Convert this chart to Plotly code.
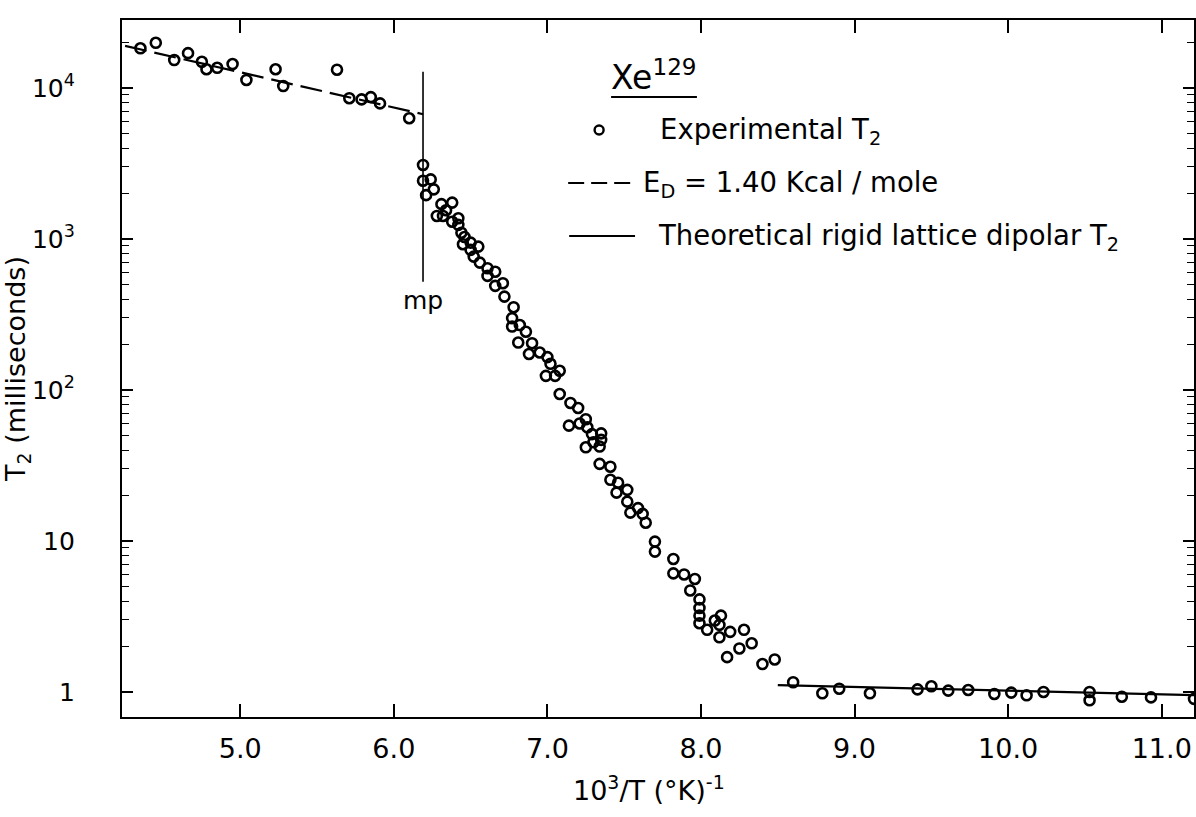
import plotly.graph_objects as go

# ---------------- data ----------------
x_exp = [4.35, 4.45, 4.57, 4.66, 4.75, 4.78, 4.85, 4.95, 5.04, 5.23, 5.28, 5.63, 5.71, 5.79, 5.85, 5.91, 6.10,
         6.19, 6.19, 6.24, 6.26, 6.21, 6.31, 6.38, 6.34, 6.28, 6.32, 6.38, 6.42, 6.42, 6.44, 6.46, 6.50, 6.45,
         6.55, 6.50, 6.52, 6.56, 6.61, 6.66, 6.61, 6.71, 6.66, 6.72, 6.78, 6.77, 6.77, 6.82, 6.86, 6.81, 6.90,
         6.88, 6.95, 7.00, 7.02, 7.08, 6.99, 7.05, 7.08, 7.15, 7.20, 7.25, 7.14, 7.21, 7.26, 7.29, 7.35, 7.35,
         7.30, 7.34, 7.25, 7.34, 7.41, 7.41, 7.46, 7.45, 7.52, 7.52, 7.59, 7.54, 7.62, 7.64, 7.70, 7.70, 7.82,
         7.82, 7.89, 7.96, 7.93, 7.99, 7.99, 7.99, 7.99, 8.04, 8.13, 8.09, 8.12, 8.12, 8.19, 8.28, 8.33, 8.25,
         8.17, 8.40, 8.48,
         8.60, 8.79, 8.90, 9.10, 9.41, 9.50, 9.61, 9.74, 9.91, 10.02, 10.12, 10.23, 10.53, 10.53, 10.74, 10.93,
         11.21]
t2_exp = [18300, 19900, 15300, 17000, 14900, 13300, 13600, 14400, 11300, 13300, 10300, 13200, 8550, 8400, 8700,
          7900, 6300,
          3090, 2430, 2480, 2130, 1950, 1700, 1740, 1550, 1420, 1420, 1300, 1370, 1240, 1100, 1030, 946, 923,
          890, 846, 764, 697, 640, 607, 569, 509, 489, 415, 353, 299, 263, 269, 243, 206, 204,
          173, 177, 165, 149, 134, 124, 124, 94, 82, 76, 64, 58, 60, 56.6, 51, 51.6, 46.7,
          45, 42.2, 41.7, 32.4, 31, 25.4, 24.3, 20.9, 21.8, 18.2, 16.5, 15.4, 15.1, 13.2, 9.9, 8.5, 7.6,
          6.1, 6.0, 5.6, 4.7, 4.1, 3.6, 3.2, 2.85, 2.58, 3.2, 2.97, 2.78, 2.30, 2.5, 2.58, 2.10, 1.94,
          1.70, 1.53, 1.64,
          1.16, 0.98, 1.05, 0.98, 1.04, 1.09, 1.02, 1.03, 0.97, 0.99, 0.95, 1.0, 1.0, 0.88, 0.93, 0.92,
          0.90]

x_dash = [4.25, 6.19]          # E_D = 1.40 kcal/mole fit
t2_dash = [19000, 6700]
x_solid = [8.5, 11.25]         # rigid lattice dipolar T2
t2_solid = [1.11, 0.95]
x_mp = [6.19, 6.19]            # melting point marker
t2_mp = [12800, 520]

x_tickvals = [5, 6, 7, 8, 9, 10, 11]
x_ticktext = ["5.0", "6.0", "7.0", "8.0", "9.0", "10.0", "11.0"]
y_tickvals = [1, 10, 100, 1000, 10000]
y_ticktext = ["1", "10", "10<sup>2</sup>", "10<sup>3</sup>", "10<sup>4</sup>"]
y_minor = [m * 10 ** d for d in range(0, 5) for m in range(2, 10) if m * 10 ** d < 28000]

FONT = "DejaVu Sans, Liberation Sans, sans-serif"

fig = go.Figure()
fig.add_trace(go.Scatter(x=x_dash, y=t2_dash, mode="lines",
                         line=dict(color="black", width=2.2, dash="22px,8px"), showlegend=False))
fig.add_trace(go.Scatter(x=x_solid, y=t2_solid, mode="lines",
                         line=dict(color="black", width=2.2), showlegend=False))
fig.add_trace(go.Scatter(x=x_mp, y=t2_mp, mode="lines",
                         line=dict(color="black", width=1.6), showlegend=False))
fig.add_trace(go.Scatter(x=x_exp, y=t2_exp, mode="markers",
                         marker=dict(symbol="circle-open", size=10, color="black", line=dict(width=2.6)),
                         showlegend=False))

L, R, T, B = 122, 0, 20, 100
W, H = 1196, 817
pw, ph = W - L - R, H - T - B


def px(xp):
    return (xp - L) / pw


def py(yp):
    return (H - B - yp) / ph


# legend drawn as annotations / shapes
fig.add_shape(type="line", xref="paper", yref="paper", x0=px(569), x1=px(636), y0=py(183), y1=py(183),
              line=dict(color="black", width=2.2, dash="16px,7px"))
fig.add_shape(type="line", xref="paper", yref="paper", x0=px(570), x1=px(636), y0=py(236), y1=py(236),
              line=dict(color="black", width=2.2))
fig.add_shape(type="line", xref="paper", yref="paper", x0=px(612), x1=px(698), y0=py(97), y1=py(97),
              line=dict(color="black", width=2))
fig.add_shape(type="circle", xref="paper", yref="paper", xsizemode="pixel", ysizemode="pixel",
              xanchor=px(600), yanchor=py(130), x0=-4.5, x1=4.5, y0=-4.5, y1=4.5,
              line=dict(color="black", width=2.4))

ann = dict(showarrow=False, xref="paper", yref="paper", xanchor="left", yanchor="middle",
           font=dict(family=FONT, size=27.5, color="black"))
fig.add_annotation(text="Xe<sup>129</sup>", x=px(610), y=py(76), **{**ann, "font": dict(family=FONT, size=33, color="black")})
fig.add_annotation(text="Experimental T<sub>2</sub>", x=px(659), y=py(132), **ann)
fig.add_annotation(text="E<sub>D</sub> = 1.40 Kcal / mole", x=px(642), y=py(185), **ann)
fig.add_annotation(text="Theoretical rigid lattice dipolar T<sub>2</sub>", x=px(657), y=py(238), **ann)
fig.add_annotation(text="mp", x=6.19, xref="x", y=py(300), yref="paper", showarrow=False,
                   xanchor="center", yanchor="middle", font=dict(family=FONT, size=25, color="black"))
fig.add_annotation(text="10<sup>3</sup>/T (°K)<sup>-1</sup>", x=px(650), y=py(788), xref="paper", yref="paper",
                   showarrow=False, xanchor="center", yanchor="middle",
                   font=dict(family=FONT, size=27, color="black"))

fig.update_layout(
    width=W, height=H,
    margin=dict(l=L, r=R, t=T, b=B),
    paper_bgcolor="white", plot_bgcolor="white",
    font=dict(family=FONT, color="black"),
    xaxis=dict(range=[4.23, 11.21], tickvals=x_tickvals, ticktext=x_ticktext,
               ticks="inside", ticklen=13, tickwidth=1.6, tickcolor="black",
               showline=True, linecolor="black", linewidth=2.2, mirror="ticks",
               showgrid=False, zeroline=False,
               tickfont=dict(family=FONT, size=27, color="black"), ticklabelstandoff=6),
    yaxis=dict(type="log", range=[-0.166, 4.45], tickvals=y_tickvals, ticktext=y_ticktext,
               ticks="inside", ticklen=11, tickwidth=1.6, tickcolor="black",
               minor=dict(tickvals=y_minor, ticks="inside", ticklen=7, tickwidth=1.2, tickcolor="black",
                          showgrid=False),
               showline=True, linecolor="black", linewidth=2.2, mirror="ticks",
               showgrid=False, zeroline=False,
               tickfont=dict(family=FONT, size=25, color="black"), ticklabelstandoff=40,
               title=dict(text="T<sub>2</sub> (milliseconds)", font=dict(family=FONT, size=27, color="black"),
                          standoff=12)),
)

fig.write_html("out.html", config={"displayModeBar": False},
               post_script="document.body.style.margin='0';document.body.style.overflow='hidden';")
